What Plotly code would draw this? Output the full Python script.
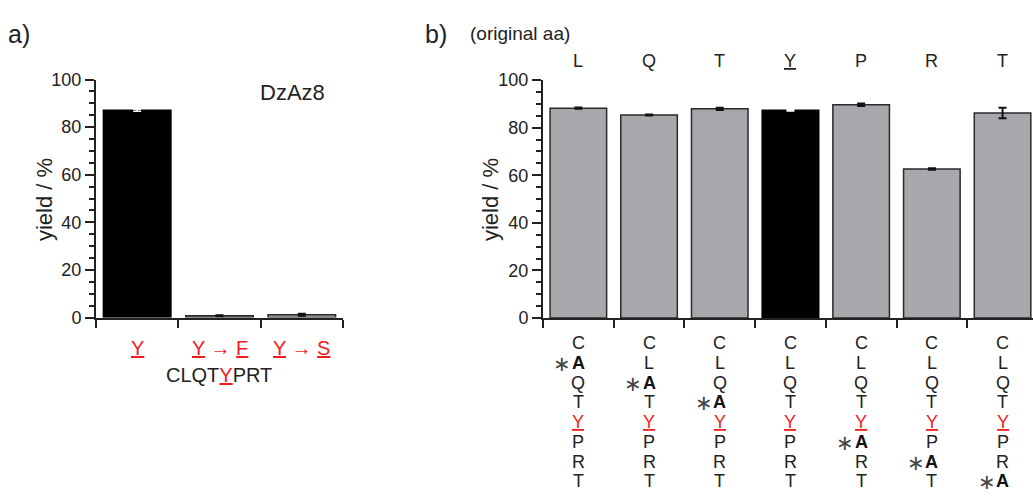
import plotly.graph_objects as go

W, H = 1033, 497
FONT = "Liberation Sans, Arial, Helvetica, sans-serif"
RED = "#F21C1C"
GRAY = "#A7A8AC"
EDGE = "#2a2a2a"

# ---------------- data ----------------
a_categories = ["Y", "Y→F", "Y→S"]
a_labels = ["<u>Y</u>", "<u>Y</u> → <u>F</u>", "<u>Y</u> → <u>S</u>"]
a_values = [87.1, 0.8, 1.2]
a_errors = [0.4, 0.2, 0.4]
a_black = [True, False, False]

b_original = ["L", "Q", "T", "<u>Y</u>", "P", "R", "T"]
b_values = [88.2, 85.3, 87.9, 87.3, 89.6, 62.6, 86.2]
b_errors = [0.3, 0.2, 0.5, 0.3, 0.5, 0.3, 2.2]
b_black = [False, False, False, True, False, False, False]
sequence = ["C", "L", "Q", "T", "Y", "P", "R", "T"]
mutated_pos = [1, 2, 3, None, 5, 6, 7]   # index in sequence replaced by A

fig = go.Figure()

def add_bars(xa, ya, vals, errs, blacks, width):
    xs_g = [i for i, b in enumerate(blacks) if not b]
    xs_k = [i for i, b in enumerate(blacks) if b]
    fig.add_trace(go.Bar(
        x=xs_g, y=[vals[i] for i in xs_g], width=width,
        marker=dict(color=GRAY, line=dict(color=EDGE, width=1.5)),
        error_y=dict(type="data", array=[errs[i] for i in xs_g], color="#111",
                     thickness=2, width=4),
        xaxis=xa, yaxis=ya, showlegend=False, hoverinfo="skip"))
    fig.add_trace(go.Bar(
        x=xs_k, y=[vals[i] for i in xs_k], width=width,
        marker=dict(color="#000", line=dict(color="#000", width=1.5)),
        error_y=dict(type="data", array=[errs[i] for i in xs_k], color="#fff",
                     thickness=1.5, width=4),
        xaxis=xa, yaxis=ya, showlegend=False, hoverinfo="skip"))

add_bars("x", "y", a_values, a_errors, a_black, 0.82)
add_bars("x2", "y2", b_values, b_errors, b_black, 0.8)

def py(p):
    return 1 - p / H

yax = dict(range=[0, 100], dtick=20, ticks="outside", ticklen=9, tickwidth=2,
           tickcolor="#222", showline=True, linecolor="#222", linewidth=2,
           showgrid=False, zeroline=False,
           tickfont=dict(family=FONT, size=18, color="#222"),
           minor=dict(dtick=5, ticks="outside", ticklen=5, tickwidth=2,
                      tickcolor="#222", showgrid=False))

def xax(n, rng, dom):
    return dict(domain=dom, range=rng, tickmode="array",
                tickvals=[i - 0.5 for i in range(n + 1)], showticklabels=False,
                ticks="outside", ticklen=8, tickwidth=2, tickcolor="#222",
                showline=True, linecolor="#222", linewidth=2, showgrid=False,
                zeroline=False)

b_span = (W - 543) / 70.7
fig.update_layout(
    width=W, height=H, margin=dict(l=0, r=0, t=0, b=0),
    paper_bgcolor="white", plot_bgcolor="white", bargap=0,
    xaxis=xax(len(a_values), [-0.5, 2.5], [96 / W, 343 / W]),
    yaxis=dict(yax, domain=[py(320.5), py(72.5)], anchor="x"),
    xaxis2=xax(len(b_values), [-0.5, -0.5 + b_span], [543 / W, 1.0]),
    yaxis2=dict(yax, domain=[py(321), py(73)], anchor="x2"),
)
fig.update_layout(xaxis=dict(anchor="y"), xaxis2=dict(anchor="y2"))

ann = []
def text(x, y, s, size=17, color="#222", xref="paper", xanchor="center", angle=0):
    ann.append(dict(x=x, y=y, xref=xref, yref="paper", text=s, showarrow=False,
                    xanchor=xanchor, yanchor="middle", textangle=angle,
                    font=dict(family=FONT, size=size, color=color)))

# panel letters
text(6 / W, py(25), "a)", size=25, xanchor="left")
text(423 / W, py(25), "b)", size=25, xanchor="left")
text(468 / W, py(24), "(original aa)", size=19, xanchor="left")
text(292 / W, py(86), "DzAz8", size=22)
text(44 / W, py(198), "yield / %", size=22, angle=-90)
text(490 / W, py(198), "yield / %", size=22, angle=-90)

# panel a labels
for i, lab in enumerate(a_labels):
    text(i, py(352), lab, size=20, color=RED, xref="x")
seq_a = "".join(f'<span style="color:{RED}"><u>{c}</u></span>' if k == 4 else c
                for k, c in enumerate(sequence))
text(219 / W, py(380), seq_a, size=20)

# panel b top labels
for i, lab in enumerate(b_original):
    text(i, py(53), lab, size=18, xref="x2")

# panel b sequence columns
row_y = [347 + 20.6 * r for r in range(len(sequence))]
for i in range(len(b_values)):
    for r, c in enumerate(sequence):
        if mutated_pos[i] == r:
            text(i, py(row_y[r]), "<b>A</b>", size=18, color="#111", xref="x2")
            ann.append(dict(x=i, y=py(row_y[r] + 1), xref="x2", yref="paper",
                            text="∗", showarrow=False, xanchor="center",
                            yanchor="middle", xshift=-16,
                            font=dict(family="DejaVu Sans", size=21, color="#444")))
        elif r == 4:
            text(i, py(row_y[r]), f"<u>{c}</u>", size=18, color=RED, xref="x2")
        else:
            text(i, py(row_y[r]), c, size=18, xref="x2")

fig.update_layout(annotations=ann)
fig.write_html(
    "out.html",
    config={"displayModeBar": False, "staticPlot": True},
    post_script=("document.body.style.margin='0';"
                 "document.body.style.overflow='hidden';"
                 "document.documentElement.style.overflow='hidden';"),
)
